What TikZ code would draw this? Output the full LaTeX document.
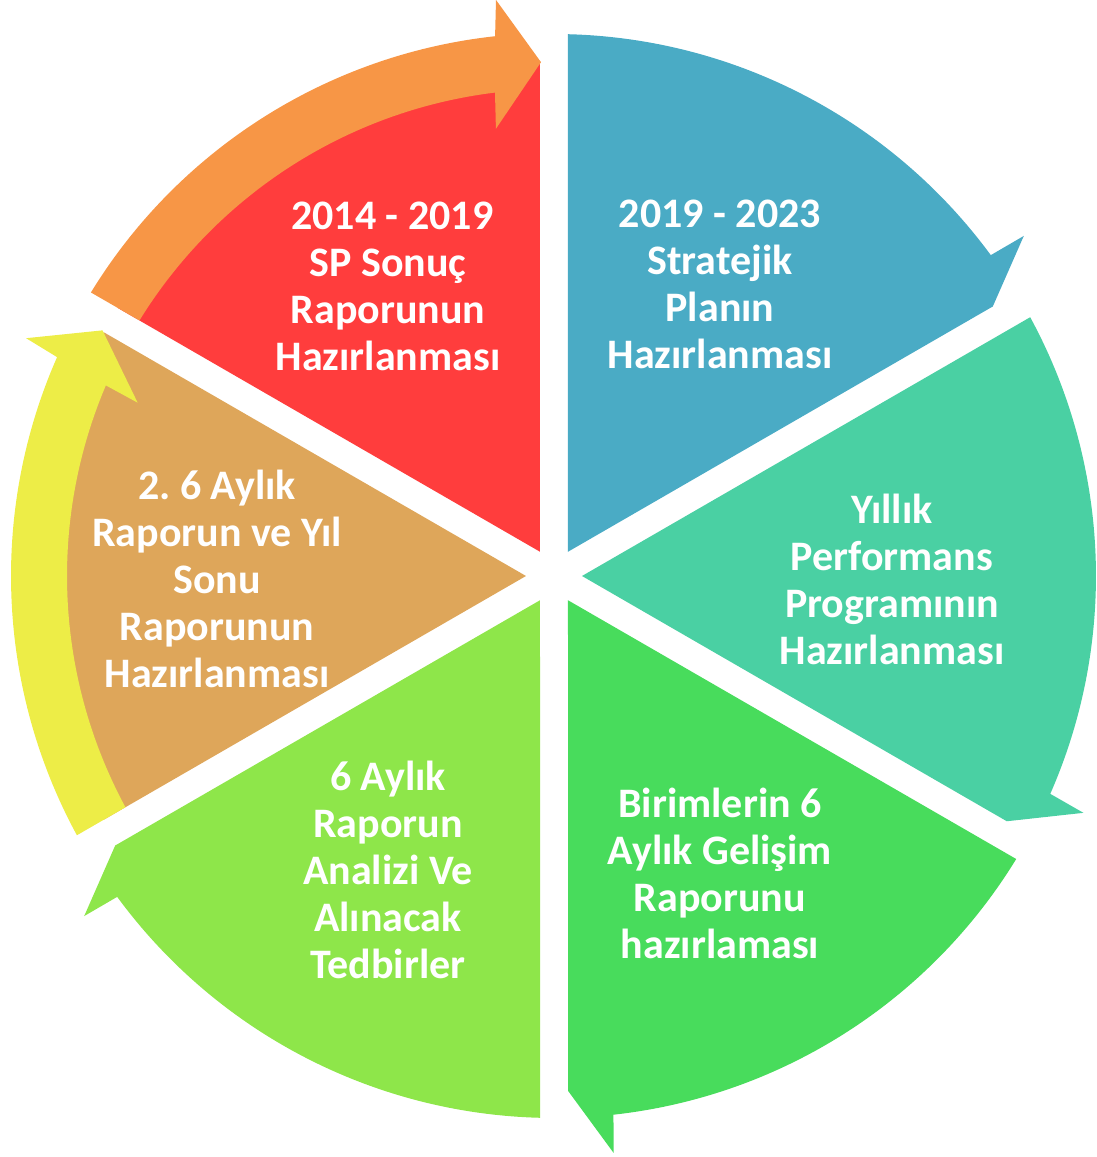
\documentclass[tikz,border=0pt]{standalone}
\usepackage{fontspec}
\setmainfont{Carlito}
\definecolor{segblue}{HTML}{4AABC5}
\definecolor{segteal}{HTML}{4AD0A3}
\definecolor{seggreen}{HTML}{48DC5C}
\definecolor{seglime}{HTML}{8EE64A}
\definecolor{segtan}{HTML}{DEA65A}
\definecolor{segyellow}{HTML}{EDED47}
\definecolor{segred}{HTML}{FF3D3D}
\definecolor{segorange}{HTML}{F79646}
\begin{document}
\begin{tikzpicture}[x=0.5pt,y=0.5pt,
  piearrow/.pic={\fill[#1] (60:28) -- (88.52:542) arc[start angle=88.52, end angle=36.3, radius=542]
      -- (35.9:580) -- (31.56:515) -- cycle;},
  piesector/.pic={\fill[#1] (120:28) -- (148.43:512) arc[start angle=148.43, end angle=91.57, radius=512] -- cycle;},
  ringarrow/.pic={\fill[#1] (148.35:487) -- (148.52:543) arc[start angle=148.52, end angle=96.23, radius=543]
      -- (95.75:579) -- (91.45:514) -- (97.4:451) -- (96.96:487)
      arc[start angle=96.96, end angle=148.35, radius=487] -- cycle;},
  lbl/.style={text=white, font=\fontsize{21}{23.5}\selectfont\bfseries, align=center, inner sep=0pt}]
\useasboundingbox (-554,-581) rectangle (543,576);
\pic (sblue) {piearrow=segblue};
\pic[rotate=-60] (steal) {piearrow=segteal};
\pic[rotate=-120] (sgreen) {piearrow=seggreen};
\pic[rotate=-180] (slime) {piearrow=seglime};
\pic (sred) {piesector=segred};
\pic[rotate=60] (stan) {piesector=segtan};
\pic (rorange) {ringarrow=segorange};
\pic[rotate=60] (ryellow) {ringarrow=segyellow};
\node[lbl] (tred) at (-166,290) {\hspace*{0.2em}2014 - 2019\\SP Sonuç\\Raporunun\\Hazırlanması};
\node[lbl] (tblue) at (166,292) {2019 - 2023\\Stratejik\\Planın\\Hazırlanması};
\node[lbl] (tteal) at (338,-3) {Yıllık\\Performans\\Programının\\Hazırlanması};
\node[lbl] (tgreen) at (166,-297) {Birimlerin 6\\Aylık Gelişim\\Raporunu\\hazırlaması};
\node[lbl] (tlime) at (-166,-294) {6 Aylık\\Raporun\\Analizi Ve\\Alınacak\\Tedbirler};
\node[lbl] (ttan) at (-337,-3) {2.\ 6 Aylık\\Raporun ve Yıl\\Sonu\\Raporunun\\Hazırlanması};
\end{tikzpicture}
\end{document}
